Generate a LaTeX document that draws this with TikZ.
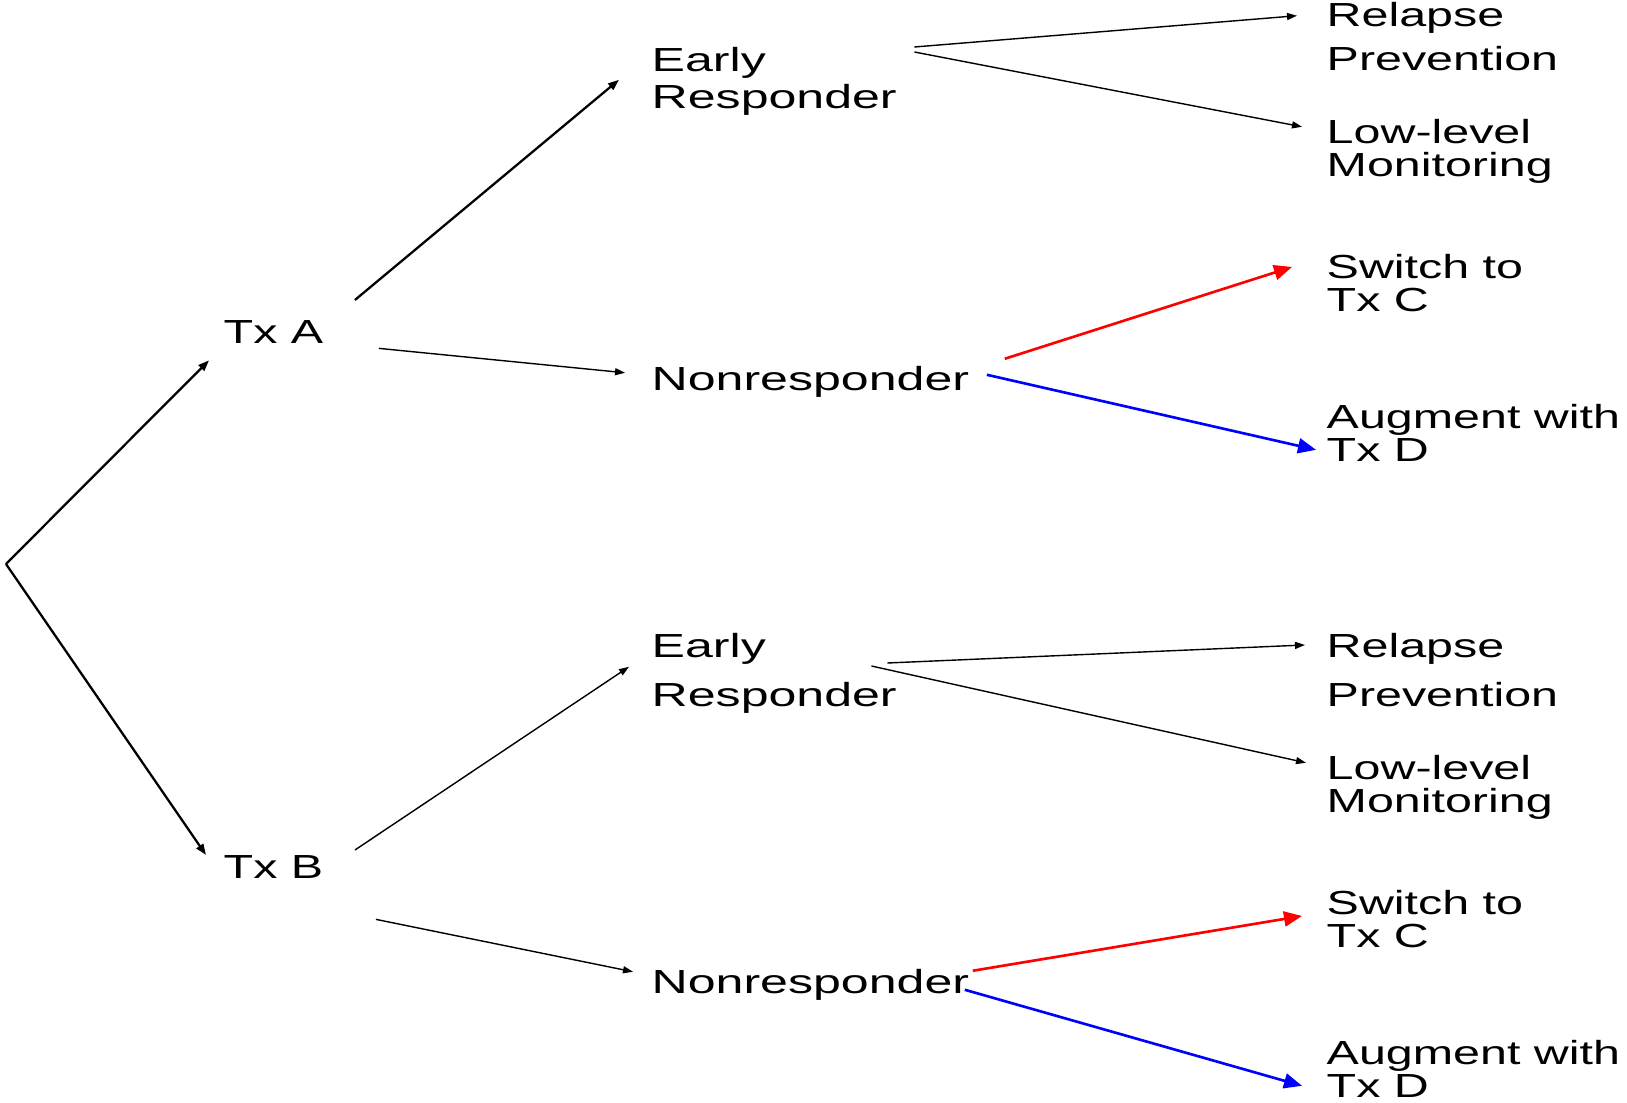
\documentclass[tikz,border=0pt]{standalone}
\usepackage{fontspec}
\setmainfont[FakeStretch=1.45]{Liberation Sans}
\newfontfamily\midfont[FakeStretch=1.5]{Liberation Sans}
\usetikzlibrary{arrows.meta}

\begin{document}
\begin{tikzpicture}[
    every node/.style={font=\fontsize{9.5pt}{9.4pt}\selectfont, inner sep=0pt, align=left, anchor=north west},
    response/.style={font=\midfont\fontsize{9.5pt}{9.4pt}\selectfont},
    main arrow/.style={-{Triangle[length=1.1mm,width=0.8mm]}, line width=0.65pt},
    sub arrow/.style={-{Triangle[length=1mm,width=0.7mm]}, line width=0.4pt},
    red arrow/.style={-{Triangle[length=1.8mm,width=1.5mm]}, line width=0.75pt, red},
    blue arrow/.style={-{Triangle[length=1.8mm,width=1.5mm]}, line width=0.75pt, blue}]

    \useasboundingbox (0,0) rectangle (16.27,-11.03);

    % start of the tree
    \coordinate (root) at (0.06,-5.64);

    % first stage
    \node (txa) at (2.23,-3.20) {Tx A};
    \node (txb) at (2.23,-8.55) {Tx B};

    % response after Tx A
    \node[response] (er1) at (6.51,-0.47) {Early\\[0.4mm]Responder};
    \node[response] (nr1) at (6.51,-3.66) {Nonresponder};

    % response after Tx B
    \node[response] (er2) at (6.51,-6.33) {Early\\[1.6mm]Responder};
    \node[response] (nr2) at (6.51,-9.69) {Nonresponder};

    % second stage, upper half
    \node (rp1) at (13.26,-0.015) {Relapse\\[1.15mm]Prevention};
    \node (lm1) at (13.26,-1.19) {Low-level\\Monitoring};
    \node (sw1) at (13.26,-2.54) {Switch to\\Tx C};
    \node (au1) at (13.26,-4.04) {Augment with\\Tx D};

    % second stage, lower half
    \node (rp2) at (13.26,-6.33) {Relapse\\[1.6mm]Prevention};
    \node (lm2) at (13.26,-7.55) {Low-level\\Monitoring};
    \node (sw2) at (13.26,-8.90) {Switch to\\Tx C};
    \node (au2) at (13.26,-10.40) {Augment with\\Tx D};

    % randomisation
    \draw[main arrow] (root) -- ([shift={(-0.14,-0.16)}]txa.south west);
    \draw[main arrow] (root) -- ([shift={(-0.17,0)}]txb.north west);

    % Tx A
    \draw[main arrow] ([shift={(0.31,0.20)}]txa.north east) -- ([shift={(-0.32,0.02)}]er1.west);
    \draw[sub arrow] ([shift={(0.55,-0.04)}]txa.south east) -- ([shift={(-0.26,0.095)}]nr1.west);

    % Tx B
    \draw[sub arrow] ([shift={(0.31,0.05)}]txb.north east) -- ([shift={(-0.22,0.07)}]er2.west);
    \draw[sub arrow] ([shift={(0.52,-0.40)}]txb.south east) -- ([shift={(-0.18,0.135)}]nr2.west);

    % early responders
    \draw[sub arrow] ([shift={(0.17,0)}]er1.north east) -- ([shift={(-0.29,0.21)}]rp1.west);
    \draw[sub arrow] ([shift={(0.17,-0.05)}]er1.north east) -- ([shift={(-0.24,0.25)}]lm1.west);
    \draw[sub arrow] ([shift={(-0.10,-0.30)}]er2.north east) -- ([shift={(-0.21,0.255)}]rp2.west);
    \draw[sub arrow] ([shift={(-0.26,-0.33)}]er2.north east) -- ([shift={(-0.20,0.25)}]lm2.west);

    % nonresponders
    \draw[red arrow] ([shift={(0.35,0.235)}]nr1.east) -- ([shift={(-0.34,0.165)}]sw1.west);
    \draw[blue arrow] ([shift={(0.17,0.075)}]nr1.east) -- ([shift={(-0.10,-0.165)}]au1.west);
    \draw[red arrow] ([shift={(0.03,0.145)}]nr2.east) -- ([shift={(-0.24,0.035)}]sw2.west);
    \draw[blue arrow] ([shift={(-0.05,-0.045)}]nr2.east) -- ([shift={(-0.24,-0.165)}]au2.west);

\end{tikzpicture}
\end{document}
